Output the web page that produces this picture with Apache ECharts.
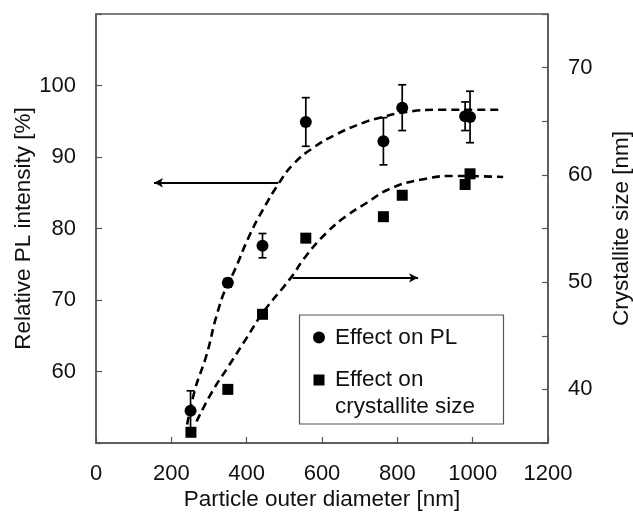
<!DOCTYPE html>
<html>
<head>
<meta charset="utf-8">
<script src="https://cdn.jsdelivr.net/npm/echarts@6/dist/echarts.min.js"></script>
<style>html,body{margin:0;padding:0;background:#fff}#c{width:633px;height:513px}</style>
</head>
<body>
<div id="c"></div>
<script>
// Effect on PL (left axis): diameter [nm], relative PL [%], error [%]
var plX = [251, 350, 442, 557, 763, 813, 980, 993];
var plY = [54.5, 72.4, 77.6, 94.9, 92.2, 96.9, 95.7, 95.6];
var plErr = [2.8, 0.6, 1.7, 3.4, 3.3, 3.2, 2.0, 3.6];
// Effect on crystallite size (right axis)
var csX = [252, 350, 442, 557, 763, 813, 980, 993];
var csY = [36.0, 40.0, 47.0, 54.1, 56.1, 58.1, 59.1, 60.1];
// Dashed guide curves
var plFitX = [242, 263, 294, 320, 347, 365, 409, 444, 484, 524, 577, 639, 710, 754, 825, 913, 1081];
var plFitY = [52.6, 57.5, 62.4, 67.8, 72.0, 73.8, 79.2, 82.7, 86.2, 89.0, 91.3, 93.2, 94.8, 95.5, 96.3, 96.6, 96.6];
var csFitX = [267, 307, 347, 400, 444, 515, 559, 612, 666, 719, 780, 869, 958, 1081];
var csFitY = [37.0, 39.7, 41.9, 44.8, 47.2, 50.3, 52.5, 54.6, 56.2, 57.4, 58.7, 59.6, 59.9, 59.8];
// Axis ticks
var xTicks = {min: 0, max: 1200, interval: 200};
var yLeftTicks = {min: 50, max: 110, interval: 10, shown: [60, 70, 80, 90, 100]};
var yRightTicks = {min: 35, max: 75, interval: 5, shown: [40, 50, 60, 70]};
// Arrows
var arrowL = {from: [484, 86.4], to: [154, 86.4]};
var arrowR = {from: [522, 50.4], to: [855, 50.4]};

function zip(a, b) { return a.map(function (v, i) { return [v, b[i]]; }); }

var FONT = 'Liberation Sans, Arial, sans-serif';
var TXT = '#111';
var AX = '#555';

var chart = echarts.init(document.getElementById('c'));
chart.setOption({
  animation: false,
  textStyle: {fontFamily: FONT},
  grid: {left: 96, right: 85, top: 14, bottom: 70, containLabel: false, outerBoundsMode: 'none',
    show: true, borderColor: AX, borderWidth: 1.5},
  xAxis: {
    type: 'value', min: xTicks.min, max: xTicks.max, interval: xTicks.interval,
    name: 'Particle outer diameter [nm]', nameLocation: 'middle', nameGap: 45, nameMoveOverlap: false,
    nameTextStyle: {fontSize: 22.5, color: TXT, fontFamily: FONT},
    axisLine: {lineStyle: {color: AX, width: 1.5}},
    axisTick: {inside: true, length: 6, lineStyle: {color: AX, width: 1.2}},
    axisLabel: {fontSize: 22, color: TXT, margin: 20, fontFamily: FONT,
      formatter: function (v) { return String(v); }},
    splitLine: {show: false}
  },
  yAxis: [{
    type: 'value', min: yLeftTicks.min, max: yLeftTicks.max, interval: yLeftTicks.interval,
    name: 'Relative PL intensity [%]', nameLocation: 'middle', nameGap: 61, nameRotate: 90, nameMoveOverlap: false,
    nameTextStyle: {fontSize: 22.5, color: TXT, fontFamily: FONT},
    axisLine: {show: true, lineStyle: {color: AX, width: 1.5}},
    axisTick: {inside: true, length: 6, lineStyle: {color: AX, width: 1.2}},
    axisLabel: {fontSize: 22, color: TXT, margin: 20, fontFamily: FONT,
      formatter: function (v) { return yLeftTicks.shown.indexOf(v) >= 0 ? String(v) : ''; }},
    splitLine: {show: false}
  }, {
    type: 'value', position: 'right', min: yRightTicks.min, max: yRightTicks.max, interval: yRightTicks.interval,
    name: 'Crystallite size [nm]', nameLocation: 'middle', nameGap: 62, nameRotate: 90, nameMoveOverlap: false,
    nameTextStyle: {fontSize: 22.5, color: TXT, fontFamily: FONT},
    axisLine: {show: true, lineStyle: {color: AX, width: 1.5}},
    axisTick: {inside: true, length: 6, lineStyle: {color: AX, width: 1.2}},
    axisLabel: {fontSize: 22, color: TXT, margin: 20, fontFamily: FONT,
      formatter: function (v) { return yRightTicks.shown.indexOf(v) >= 0 ? String(v) : ''; }},
    splitLine: {show: false}
  }],
  series: [{
    name: 'PL fit', type: 'line', yAxisIndex: 0, data: zip(plFitX, plFitY), smooth: true,
    showSymbol: false, lineStyle: {color: '#000', width: 2.6, type: [8, 5]},
    markLine: {silent: true, symbol: ['none', 'arrow'], symbolSize: [7, 9], label: {show: false},
      lineStyle: {color: '#000', width: 1.8, type: 'solid'},
      data: [[{coord: arrowL.from}, {coord: arrowL.to}]]}
  }, {
    name: 'Crystallite fit', type: 'line', yAxisIndex: 1, data: zip(csFitX, csFitY), smooth: true,
    showSymbol: false, lineStyle: {color: '#000', width: 2.6, type: [8, 5]},
    markLine: {silent: true, symbol: ['none', 'arrow'], symbolSize: [7, 9], label: {show: false},
      lineStyle: {color: '#000', width: 1.8, type: 'solid'},
      data: [[{coord: arrowR.from}, {coord: arrowR.to}]]}
  }, {
    name: 'PL error', type: 'custom', yAxisIndex: 0,
    data: plX.map(function (x, i) { return [x, plY[i] - plErr[i], plY[i] + plErr[i]]; }),
    renderItem: function (params, api) {
      var lo = api.coord([api.value(0), api.value(1)]);
      var hi = api.coord([api.value(0), api.value(2)]);
      var w = 4;
      var st = {stroke: '#000', lineWidth: 1.7};
      return {type: 'group', children: [
        {type: 'line', shape: {x1: lo[0], y1: lo[1], x2: hi[0], y2: hi[1]}, style: st},
        {type: 'line', shape: {x1: lo[0] - w, y1: lo[1], x2: lo[0] + w, y2: lo[1]}, style: st},
        {type: 'line', shape: {x1: hi[0] - w, y1: hi[1], x2: hi[0] + w, y2: hi[1]}, style: st}
      ]};
    }, z: 3
  }, {
    name: 'Effect on PL', type: 'scatter', yAxisIndex: 0, data: zip(plX, plY),
    symbol: 'circle', symbolSize: 12, itemStyle: {color: '#000', opacity: 1}, z: 4
  }, {
    name: 'Effect on crystallite size', type: 'scatter', yAxisIndex: 1, data: zip(csX, csY),
    symbol: 'rect', symbolSize: 11, itemStyle: {color: '#000', opacity: 1}, z: 4
  }],
  graphic: [
    {type: 'rect', shape: {x: 299.5, y: 315, width: 204, height: 109}, style: {fill: '#fff', stroke: AX, lineWidth: 1.2}, z: 10},
    {type: 'circle', shape: {cx: 319, cy: 337.5, r: 6}, style: {fill: '#000'}, z: 11},
    {type: 'rect', shape: {x: 313.5, y: 374.5, width: 11, height: 11}, style: {fill: '#000'}, z: 11},
    {type: 'text', x: 335, y: 337.5, style: {text: 'Effect on PL', font: '22.5px ' + FONT, fill: TXT, verticalAlign: 'middle'}, z: 11},
    {type: 'text', x: 335, y: 366.5, style: {text: 'Effect on\ncrystallite size', font: '22.5px ' + FONT, fill: TXT, lineHeight: 27, verticalAlign: 'top'}, z: 11}
  ]
});
</script>
</body>
</html>
